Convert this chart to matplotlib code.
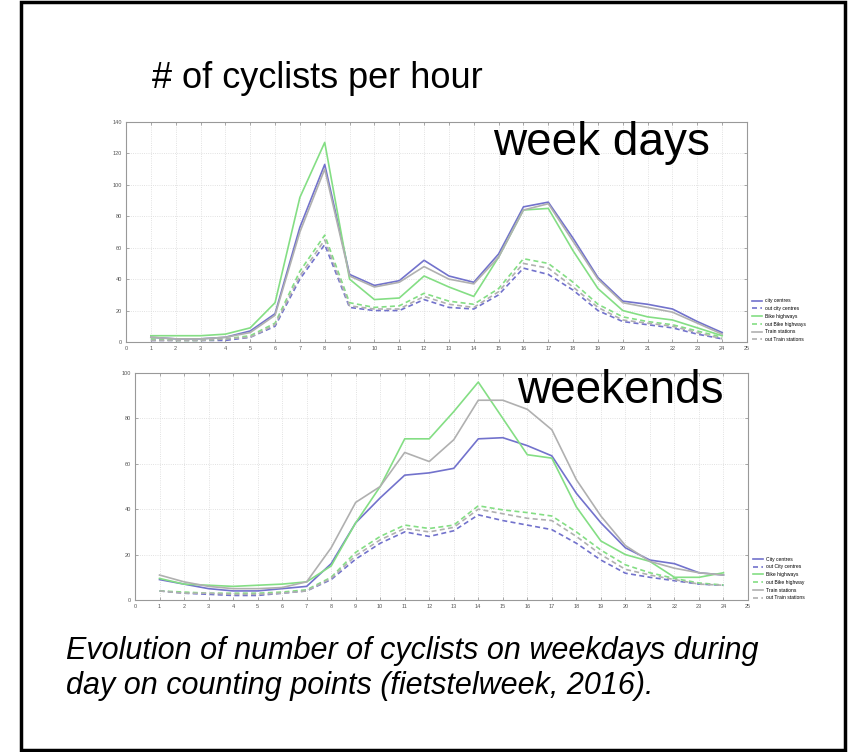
import numpy as np
import matplotlib.pyplot as plt
from matplotlib.patches import Rectangle

plt.rcParams['font.family'] = ['Liberation Sans', 'DejaVu Sans']

hours = np.arange(1, 25)

# week days
wd_city = [3, 2, 2, 3, 7, 18, 73, 113, 43, 36, 39, 52, 42, 38, 56, 86, 89, 66, 41, 26, 24, 21, 13, 6]
wd_out_city = [1, 1, 1, 1, 3, 10, 40, 62, 22, 20, 20, 27, 22, 21, 30, 47, 43, 33, 20, 13, 11, 9, 5, 2]
wd_bike = [4, 4, 4, 5, 9, 25, 92, 127, 40, 27, 28, 42, 35, 29, 54, 84, 85, 58, 34, 20, 16, 14, 9, 4]
wd_out_bike = [2, 1, 1, 2, 4, 12, 45, 68, 25, 22, 23, 31, 26, 24, 34, 53, 50, 38, 24, 16, 13, 11, 7, 3]
wd_train = [3, 2, 2, 3, 6, 17, 70, 110, 42, 35, 38, 48, 40, 37, 54, 84, 88, 64, 40, 25, 22, 19, 12, 5]
wd_out_train = [1, 1, 1, 2, 3, 11, 42, 65, 23, 21, 21, 29, 24, 22, 32, 50, 47, 35, 22, 14, 12, 10, 6, 2]

# weekends
we_city = [9, 7, 5, 4, 4, 5, 6, 16, 34, 45, 55, 56, 58, 71, 71.5, 68, 63.5, 47, 34, 23, 17.6, 16, 12, 11]
we_out_city = [4, 3, 2.5, 2, 2, 3, 4, 9, 18, 25, 30, 28, 30.5, 37.5, 35, 33, 31, 25, 17.6, 11.8, 10, 8.5, 7, 6.5]
we_bike = [9.5, 7, 6.5, 6, 6.5, 7, 8, 15, 34, 50, 71, 71, 83, 96, 80, 64, 62.5, 41, 26, 20, 17, 10, 10, 12]
we_out_bike = [4, 3.5, 3, 3, 3, 3.5, 4.5, 10, 21, 28, 33, 31.5, 33, 41.5, 39.7, 38.5, 37, 30, 22, 15.5, 12, 9.5, 7.5, 6.6]
we_train = [11, 8, 6, 5, 5, 5.5, 8, 23, 43, 50, 65, 61, 70.6, 88, 88, 84, 75, 53, 37, 24, 17, 14, 12, 11]
we_out_train = [4, 3, 3, 2.5, 2.5, 3, 4, 9.5, 19.5, 26.5, 31.5, 30, 32, 40, 38, 36, 35, 28, 20, 13.5, 11, 9, 7, 6.5]

wd_labels = ['city centres', 'out city centres', 'Bike highways',
             'out Bike highways', 'Train stations', 'out Train stations']
we_labels = ['City centres', 'out City centres', 'Bike highways',
             'out Bike highway', 'Train stations', 'out Train stations']

blue = '#7272cc'
green = '#84de84'
grey = '#b0b0b0'


def draw(ax, series, labels, ymax):
    styles = [(blue, '-'), (blue, '--'), (green, '-'), (green, '--'), (grey, '-'), (grey, '--')]
    for ys, lab, (c, ls) in zip(series, labels, styles):
        ax.plot(hours, ys, color=c, ls=ls, lw=1.2, label=lab,
                dashes=(3, 2) if ls == '--' else (None, None))
    ax.set_xlim(0, 25)
    ax.set_ylim(0, ymax)
    ax.set_xticks(range(0, 26))
    ax.set_yticks(range(0, ymax + 1, 20))
    ax.grid(True, ls=':', color='#d8d8d8', lw=0.6)
    ax.tick_params(direction='in', length=2, width=0.5, labelsize=4,
                   labelcolor='#555555', color='#888888',
                   top=True, right=True, pad=3)
    for s in ax.spines.values():
        s.set_color('#999999')
        s.set_linewidth(0.8)
    ax.legend(loc='lower left', bbox_to_anchor=(1.005, -0.01), frameon=False,
              fontsize=3.6, handlelength=2.0, labelspacing=0.55,
              handletextpad=0.5, borderaxespad=0)


fig = plt.figure(figsize=(8.48, 7.52), dpi=100)

ax1 = fig.add_axes([126 / 848, 1 - 342 / 752, 621 / 848, 220 / 752])
draw(ax1, [wd_city, wd_out_city, wd_bike, wd_out_bike, wd_train, wd_out_train], wd_labels, 140)

ax2 = fig.add_axes([135 / 848, 1 - 600 / 752, 613 / 848, 227 / 752])
draw(ax2, [we_city, we_out_city, we_bike, we_out_bike, we_train, we_out_train], we_labels, 100)

fig.text(152 / 848, 1 - 88 / 752, '# of cyclists per hour', fontsize=26, va='baseline')
fig.text(493 / 848, 1 - 155 / 752, 'week days', fontsize=33, va='baseline')
fig.text(517 / 848, 1 - 403 / 752, 'weekends', fontsize=33, va='baseline')
fig.text(66 / 848, 1 - 659 / 752, 'Evolution of number of cyclists on weekdays during',
         fontsize=22, style='italic', va='baseline')
fig.text(66 / 848, 1 - 694 / 752, 'day on counting points (fietstelweek, 2016).',
         fontsize=22, style='italic', va='baseline')

fig.patches.append(Rectangle((21 / 848, 1 - 750 / 752), 824 / 848, 748 / 752,
                             transform=fig.transFigure, fill=False,
                             edgecolor='black', lw=2.5))

fig.savefig('out.png', dpi=100)
